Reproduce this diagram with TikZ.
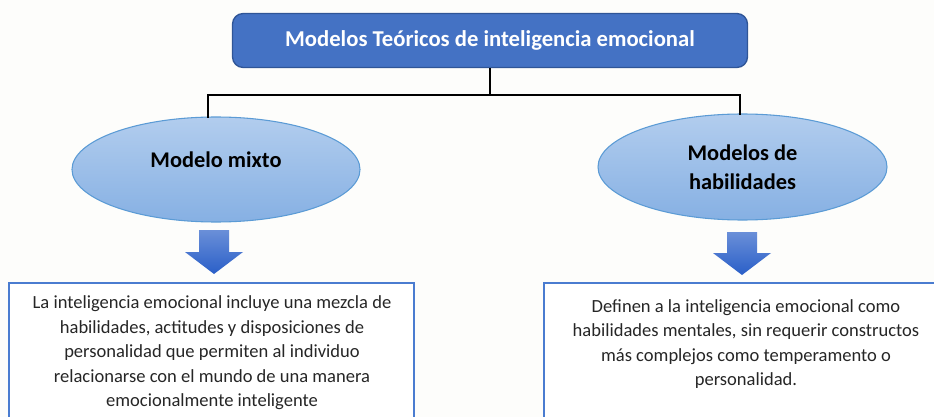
\documentclass[tikz,border=0pt]{standalone}
\usepackage{fontspec}
\setmainfont{Carlito}
\usetikzlibrary{shadings,shapes.geometric}
\definecolor{bgc}{HTML}{FDFDFB}
\definecolor{topfill}{HTML}{4472C4}
\definecolor{topdraw}{HTML}{2F5597}
\definecolor{elltop}{HTML}{B2CDEE}
\definecolor{ellbot}{HTML}{86B0E3}
\definecolor{elldraw}{HTML}{5B9BD5}
\definecolor{arrtop}{HTML}{6A8FD8}
\definecolor{arrbot}{HTML}{2A5FC8}
\definecolor{boxdraw}{HTML}{4A7CD0}
\definecolor{txt}{HTML}{262626}
\tikzset{
  titlebox/.style={draw=topdraw, line width=1pt, fill=topfill, rounded corners=8pt, minimum width=515pt*0.75, minimum height=54pt*0.75, text=white, font=\bfseries\fontsize{17}{20}\selectfont},
  modelell/.style={ellipse, draw=elldraw, line width=0.8pt, top color=elltop, bottom color=ellbot, font=\bfseries\fontsize{16.8}{21.8}\selectfont, align=center, text=black},
  conn/.style={line width=1pt, black},
  downarrow/.style={top color=arrtop, bottom color=arrbot, draw=none},
  descbox/.style={draw=boxdraw, line width=1.2pt, fill=white},
  desctext/.style={font=\fontsize{13.9}{18.4}\selectfont, align=center, text=txt}
}
\begin{document}
\begin{tikzpicture}[x=0.75pt, y=-0.75pt]
\useasboundingbox (0,0) rectangle (934,417);
\clip (0,0) rectangle (934,417);
\fill[bgc] (0,0) rectangle (934,417);

% description boxes (cut by the frame)
\draw[descbox] (9,283) rectangle (414,440);
\draw[descbox] (544,283) rectangle (960,440);

\node[desctext] (t1) at (212,353) {La inteligencia emocional incluye una mezcla de\\habilidades, actitudes y disposiciones de\\personalidad que permiten al individuo\\relacionarse con el mundo de una manera\\emocionalmente inteligente};
\node[desctext] (t2) at (746,344) {Definen a la inteligencia emocional como\\habilidades mentales, sin requerir constructos\\más complejos como temperamento o\\personalidad.};

% title
\node[titlebox] (top) at (490,40.5) {Modelos Teóricos de inteligencia emocional};

% ellipses
\node[modelell, minimum width=288pt*0.75, minimum height=105pt*0.75, inner sep=0pt] (mix) at (216,169.5) {\raisebox{15pt}{Modelo mixto}};
\node[modelell, minimum width=289pt*0.75, minimum height=106pt*0.75, inner sep=0pt] (hab) at (742.5,167) {Modelos de\\habilidades};

% connectors
\coordinate (mid) at (490,95);
\coordinate (lend) at (208,118);
\coordinate (rend) at (740,115);
\draw[conn] (top.south) -- (mid);
\draw[conn] (lend) |- (mid) -| (rend);

% block arrows
\shade[downarrow] (199,230) -- (229,230) -- (229,252) -- (243,252) -- (214,274) -- (185,252) -- (199,252) -- cycle;
\shade[downarrow] (727,232) -- (757,232) -- (757,253) -- (771,253) -- (742,275) -- (713,253) -- (727,253) -- cycle;
\end{tikzpicture}
\end{document}
